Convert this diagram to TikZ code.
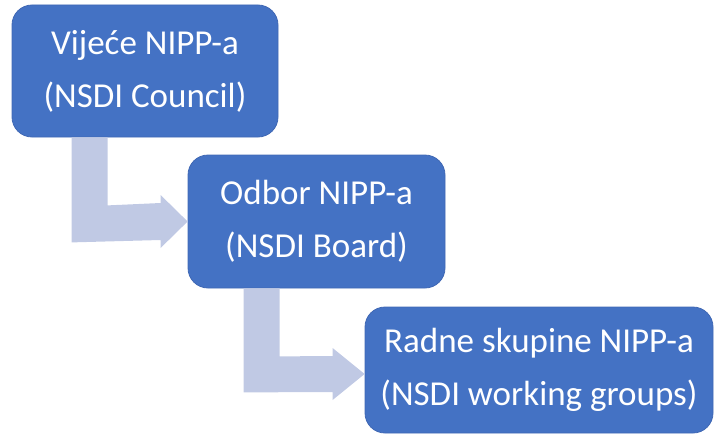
\documentclass[tikz,border=0pt]{standalone}
\usepackage{fontspec}
\setmainfont{Carlito}
\usetikzlibrary{calc}
\definecolor{boxblue}{RGB}{68,114,196}
\definecolor{boxedge}{RGB}{64,104,180}
\definecolor{arrowblue}{RGB}{192,201,228}
\begin{document}
\begin{tikzpicture}[x=1pt,y=-1pt,
  box/.style={rectangle,rounded corners=20pt,fill=boxblue,draw=boxedge,line width=0.8pt,
    text=white,align=center,inner sep=0pt,
    font=\fontsize{35}{53}\selectfont},
  bentarrow/.style={fill=arrowblue,draw=none}]
\useasboundingbox (0,0) rectangle (714,436);
% bent arrows (drawn first, behind boxes)
\node[box,minimum width=266pt,minimum height=132pt] (b1) at (145,71) {Vijeće NIPP-a\\(NSDI Council)};
\node[box,minimum width=257pt,minimum height=133pt] (b2) at (316.5,221.5) {Odbor NIPP-a\\(NSDI Board)};
\node[box,minimum width=348pt,minimum height=126pt] (b3) at (539,370) {Radne skupine NIPP-a\\(NSDI working groups)};
\begin{scope}[on background layer/.try]
\end{scope}
\fill[bentarrow]
  ($(b1.south west)+(60,0)$) -- ($(b1.south west)+(96,0)$)
  -- ($(b1.south west)+(96,68)$) -- ($(b2.west)+(-27,-18.5)$)
  -- ($(b2.west)+(-27,-26.5)$) -- (b2.west)
  -- ($(b2.west)+(-27,26.5)$) -- ($(b2.west)+(-27,18.5)$)
  -- ($(b1.south west)+(60,105)$) -- cycle;
\fill[bentarrow]
  ($(b2.south west)+(56,0)$) -- ($(b2.south west)+(92,0)$)
  -- ($(b2.south west)+(92,68)$) -- ($(b3.west)+(-32,-14)$)
  -- ($(b3.west)+(-32,-22)$) -- ($(b3.west)+(0,4)$)
  -- ($(b3.west)+(-32,30)$) -- ($(b3.west)+(-32,22)$)
  -- ($(b2.south west)+(56,104)$) -- cycle;
\end{tikzpicture}
\end{document}
